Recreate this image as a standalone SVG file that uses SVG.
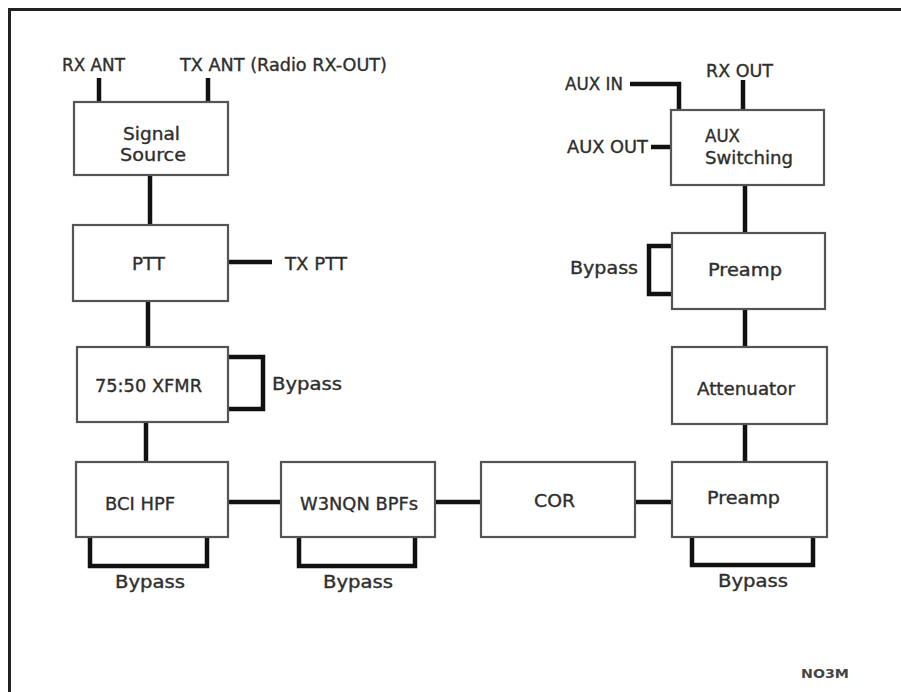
<svg xmlns="http://www.w3.org/2000/svg" width="901" height="692" viewBox="0 0 901 692">
<style>
.box{fill:#fff;stroke:#555;stroke-width:2.2}
.w{fill:none;stroke:#111;stroke-width:4.5;stroke-linecap:butt;stroke-linejoin:miter}
text{font-family:"DejaVu Sans","Verdana",sans-serif;font-size:17px;fill:#2e2e2e;stroke:#2e2e2e;stroke-width:0.35;text-anchor:middle}
.l{text-anchor:start}
.sig{font-size:13px;font-weight:bold;fill:#444;stroke:none}
</style>
<rect width="901" height="692" fill="#fff"/>
<path d="M9.5,692 V9.5 H901" fill="none" stroke="#222" stroke-width="3"/>
<g id="connectors">
<path class="w" d="M99,78 V102"/>
<path class="w" d="M208,78 V102"/>
<path class="w" d="M150,175 V225"/>
<path class="w" d="M228,262 H272"/>
<path class="w" d="M148,301 V347"/>
<path class="w" d="M228,357 H263 V409 H228"/>
<path class="w" d="M146,422 V462"/>
<path class="w" d="M90,537 V566 H207 V537"/>
<path class="w" d="M228,502 H281"/>
<path class="w" d="M299,537 V566 H415 V537"/>
<path class="w" d="M435,502 H481"/>
<path class="w" d="M635,502 H672"/>
<path class="w" d="M692,537 V565 H813 V537"/>
<path class="w" d="M745,424 V462"/>
<path class="w" d="M745,309 V347"/>
<path class="w" d="M672,246 H649 V294 H672"/>
<path class="w" d="M745,185 V233"/>
<path class="w" d="M743,80 V110"/>
<path class="w" d="M630,84 H679 V110"/>
<path class="w" d="M651,147 H670"/>
</g>
<g id="labels">
<text x="93.5" y="71" textLength="63" lengthAdjust="spacingAndGlyphs">RX ANT</text>
<text x="283.5" y="71" textLength="207" lengthAdjust="spacingAndGlyphs">TX ANT (Radio RX-OUT)</text>
<text x="316" y="270" textLength="62" lengthAdjust="spacingAndGlyphs">TX PTT</text>
<text x="307" y="390" textLength="70" lengthAdjust="spacingAndGlyphs">Bypass</text>
<text x="150" y="588" textLength="70" lengthAdjust="spacingAndGlyphs">Bypass</text>
<text x="358" y="588" textLength="70" lengthAdjust="spacingAndGlyphs">Bypass</text>
<text x="753" y="587" textLength="70" lengthAdjust="spacingAndGlyphs">Bypass</text>
<text x="604" y="274" textLength="68" lengthAdjust="spacingAndGlyphs">Bypass</text>
<text x="739.5" y="77" textLength="67" lengthAdjust="spacingAndGlyphs">RX OUT</text>
<text x="594" y="90" textLength="58" lengthAdjust="spacingAndGlyphs">AUX IN</text>
<text x="607.5" y="153" textLength="81" lengthAdjust="spacingAndGlyphs">AUX OUT</text>
<text class="sig" x="825" y="678" textLength="48" lengthAdjust="spacingAndGlyphs">NO3M</text>
</g>
<g id="signal-source">
<rect class="box" x="74" y="102" width="154" height="73"/>
<text x="151.5" y="140" textLength="57" lengthAdjust="spacingAndGlyphs">Signal</text>
<text x="153" y="161" textLength="66" lengthAdjust="spacingAndGlyphs">Source</text>
</g>
<g id="ptt">
<rect class="box" x="73" y="225" width="155" height="76"/>
<text x="148.5" y="270" textLength="33" lengthAdjust="spacingAndGlyphs">PTT</text>
</g>
<g id="xfmr">
<rect class="box" x="77" y="347" width="151" height="75"/>
<text x="148.5" y="392" textLength="107" lengthAdjust="spacingAndGlyphs">75:50 XFMR</text>
</g>
<g id="bci-hpf">
<rect class="box" x="76" y="462" width="152" height="75"/>
<text x="140" y="510" textLength="70" lengthAdjust="spacingAndGlyphs">BCI HPF</text>
</g>
<g id="w3nqn-bpfs">
<rect class="box" x="281" y="462" width="154" height="75"/>
<text x="359" y="510" textLength="118" lengthAdjust="spacingAndGlyphs">W3NQN BPFs</text>
</g>
<g id="cor">
<rect class="box" x="481" y="462" width="154" height="75"/>
<text x="554.5" y="507" textLength="41" lengthAdjust="spacingAndGlyphs">COR</text>
</g>
<g id="preamp-2">
<rect class="box" x="672" y="462" width="155" height="75"/>
<text x="743.5" y="504" textLength="73" lengthAdjust="spacingAndGlyphs">Preamp</text>
</g>
<g id="attenuator">
<rect class="box" x="672" y="347" width="155" height="77"/>
<text x="746" y="395" textLength="98" lengthAdjust="spacingAndGlyphs">Attenuator</text>
</g>
<g id="preamp-1">
<rect class="box" x="672" y="233" width="153" height="76"/>
<text x="745" y="276" textLength="74" lengthAdjust="spacingAndGlyphs">Preamp</text>
</g>
<g id="aux-switching">
<rect class="box" x="671" y="110" width="153" height="75"/>
<text class="l" x="705" y="142" textLength="35" lengthAdjust="spacingAndGlyphs">AUX</text>
<text class="l" x="705" y="164" textLength="88" lengthAdjust="spacingAndGlyphs">Switching</text>
</g>
</svg>
